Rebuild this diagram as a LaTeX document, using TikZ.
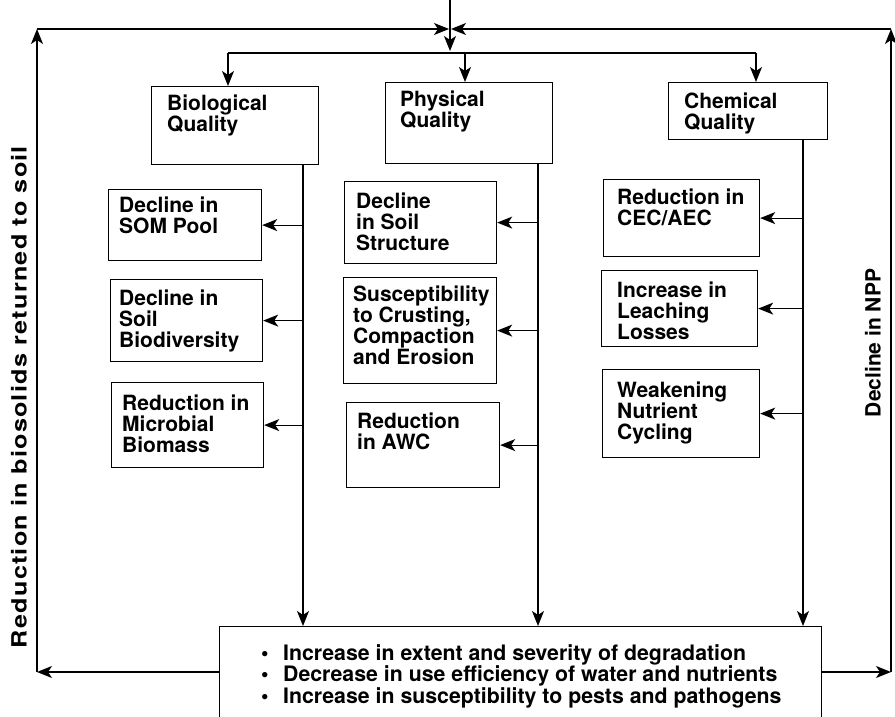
\documentclass[tikz,border=0pt]{standalone}
\usepackage{fontspec}
\setmainfont{TeX Gyre Heros}
\usetikzlibrary{arrows.meta}

\tikzstyle{bS}=[draw, line width=1.2pt, anchor=north west, inner sep=0pt]
\tikzstyle{lS}=[anchor=north west, inner sep=0pt, align=left, font=\bfseries\fontsize{21}{21}\selectfont]
\tikzstyle{aS}=[line width=1.2pt, -{Stealth[length=15pt,width=12pt,inset=4pt]}]
\tikzstyle{lnS}=[line width=1.2pt]

\begin{document}
\begin{tikzpicture}[x=1pt,y=-1pt]
    \useasboundingbox (0,0) rectangle (895,717);
    % quality boxes
    \draw (151,86) node[bS,minimum width=167pt,minimum height=78pt,label={[lS,xshift=16pt,yshift=-9pt]north west:Biological\\Quality}] (bio) {};
    \draw (385,82) node[bS,minimum width=167pt,minimum height=81pt,label={[lS,xshift=15pt,yshift=-9pt]north west:Physical\\Quality}] (phys) {};
    \draw (668,82) node[bS,minimum width=159pt,minimum height=57pt,label={[lS,xshift=16pt,yshift=-11pt]north west:Chemical\\Quality}] (chem) {};
    % effect boxes
    \draw (108,189) node[bS,minimum width=153pt,minimum height=71pt,label={[lS,xshift=11pt,yshift=-8pt]north west:Decline in\\SOM Pool}] (som) {};
    \draw (110,279) node[bS,minimum width=152pt,minimum height=82pt,label={[lS,xshift=9pt,yshift=-11pt]north west:Decline in\\Soil\\Biodiversity}] (biodiv) {};
    \draw (111,382) node[bS,minimum width=152pt,minimum height=85pt,label={[lS,xshift=11pt,yshift=-13pt]north west:Reduction in\\Microbial\\Biomass}] (micro) {};
    \draw (344,181) node[bS,minimum width=152pt,minimum height=82pt,label={[lS,xshift=12pt,yshift=-12pt]north west:Decline\\in Soil\\Structure}] (struct) {};
    \draw (343,277) node[bS,minimum width=153pt,minimum height=106pt,label={[lS,xshift=10pt,yshift=-9pt]north west:Susceptibility\\to Crusting,\\Compaction\\and Erosion}] (crust) {};
    \draw (346,402) node[bS,minimum width=153pt,minimum height=85pt,label={[lS,xshift=11pt,yshift=-11pt]north west:Reduction\\in AWC}] (awc) {};
    \draw (603,179) node[bS,minimum width=156pt,minimum height=77pt,label={[lS,xshift=14pt,yshift=-10pt]north west:Reduction in\\CEC/AEC}] (cec) {};
    \draw (601,270) node[bS,minimum width=156pt,minimum height=76pt,label={[lS,xshift=16pt,yshift=-12pt]north west:Increase in\\Leaching\\Losses}] (leach) {};
    \draw (602,369) node[bS,minimum width=157pt,minimum height=88pt,label={[lS,xshift=15pt,yshift=-13pt]north west:Weakening\\Nutrient\\Cycling}] (nutr) {};
    % outcome box
    \draw (219,626) node[bS,minimum width=602pt,minimum height=110pt,label={[lS,font=\bfseries\fontsize{21.3}{20.5}\selectfont,xshift=42pt,yshift=-18pt]north west:\makebox[22pt][l]{\textbullet}Increase in extent and severity of degradation\\\makebox[22pt][l]{\textbullet}Decrease in use efficiency of water and nutrients\\\makebox[22pt][l]{\textbullet}Increase in susceptibility to pests and pathogens}] (out) {};
    % side texts
    \draw (19,397) node[lS,anchor=center,rotate=90,font=\bfseries\fontsize{21}{21}\selectfont\addfontfeatures{LetterSpace=5}] (biosol) {\scalebox{1.2}[1]{Reduction in biosolids returned to soil}};
    \draw (873,343) node[lS,anchor=center,rotate=90] (npp) {Decline in NPP};

    \coordinate (in) at (450,0);
    \coordinate (hub) at (450,53);
    \coordinate (jn) at (450,29);
    \coordinate (dL) at (228,53);
    \coordinate (dP) at (465,53);
    \coordinate (dR) at (756,53);
    \coordinate (cL) at (37,29);
    \coordinate (cR) at (891,29);
    \coordinate (bL) at (37,672);
    \coordinate (bR) at (891,672);
    \coordinate (tB) at (303,0);
    \coordinate (tP) at (538,0);
    \coordinate (tC) at (803,0);

    % distribution
    \draw[aS,shorten >=2pt] (in) -- (hub);
    \draw[lnS] (dL) -- (dR);
    \path
        (dL) edge[aS] (dL |- bio.north)
        (dP) edge[aS] (dP |- phys.north)
        (dR) edge[aS] (dR |- chem.north)
    ;
    % feedback loop
    \draw[aS] (bL -| out.west) -- (bL);
    \draw[aS] (bL) -- (cL);
    \draw[aS,shorten >=1pt] (cL) -- (jn);
    \draw[aS] (bR -| out.east) -- (bR);
    \draw[aS] (bR) -- (cR);
    \draw[aS,shorten >=1pt] (cR) -- (jn);
    % trunks
    \path
        (tB |- bio.south) edge[aS] (tB |- out.north)
        (tP |- phys.south) edge[aS] (tP |- out.north)
        (tC |- chem.south) edge[aS] (tC |- out.north)
    ;
    % branches
    \path
        (tB |- som.east) edge[aS] (som.east)
        (tB |- biodiv.east) edge[aS] (biodiv.east)
        (tB |- micro.east) edge[aS] (micro.east)
        (tP |- struct.east) edge[aS] (struct.east)
        (tP |- crust.east) edge[aS] (crust.east)
        (tP |- awc.east) edge[aS] (awc.east)
        (tC |- cec.east) edge[aS] (cec.east)
        (tC |- leach.east) edge[aS] (leach.east)
        (tC |- nutr.east) edge[aS] (nutr.east)
    ;
\end{tikzpicture}
\end{document}
